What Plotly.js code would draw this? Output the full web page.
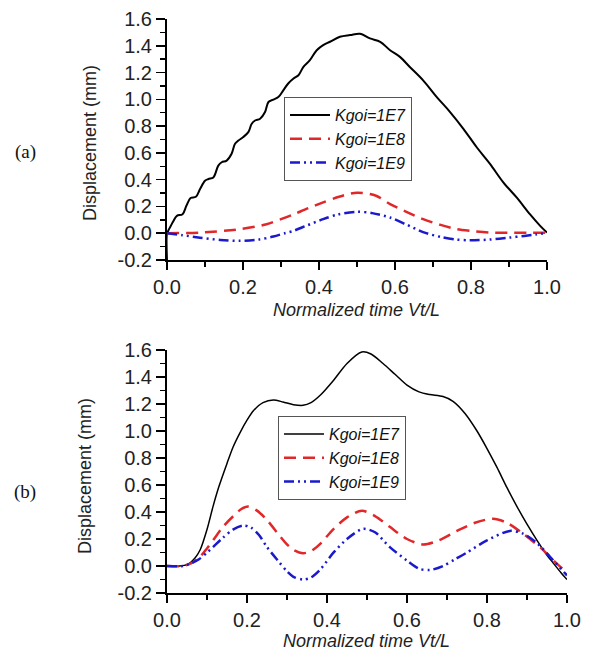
<!DOCTYPE html>
<html>
<head>
<meta charset="utf-8">
<script src="https://cdn.plot.ly/plotly-3.0.1.min.js"></script>
<style>
html,body{margin:0;padding:0;background:#fff;}
#chart{width:589px;height:653px;}
</style>
</head>
<body>
<div id="chart"></div>
<script>
// ---------- Data: panel (a) ----------
var a_k7_x = [0, 0, 0.003, 0.017, 0.026, 0.041, 0.051, 0.062, 0.076, 0.087, 0.1, 0.109, 0.122, 0.135, 0.144, 0.157, 0.17, 0.179, 0.188, 0.2, 0.214, 0.223, 0.232, 0.245, 0.258, 0.267, 0.28, 0.293, 0.306, 0.319, 0.333, 0.346, 0.359, 0.376, 0.394, 0.411, 0.429, 0.455, 0.482, 0.508, 0.534, 0.561, 0.587, 0.613, 0.639, 0.674, 0.71, 0.745, 0.78, 0.815, 0.85, 0.885, 0.92, 0.955, 0.982, 1.0];
var a_k7_y = [-0.2, 0, 0.017, 0.092, 0.13, 0.142, 0.205, 0.263, 0.272, 0.33, 0.392, 0.405, 0.417, 0.505, 0.53, 0.542, 0.593, 0.668, 0.692, 0.717, 0.755, 0.818, 0.842, 0.855, 0.905, 0.98, 0.998, 1.017, 1.067, 1.118, 1.155, 1.18, 1.242, 1.292, 1.367, 1.405, 1.43, 1.467, 1.48, 1.49, 1.455, 1.43, 1.367, 1.317, 1.242, 1.142, 1.017, 0.905, 0.78, 0.642, 0.518, 0.38, 0.267, 0.142, 0.055, 0.005];

var a_k8_x = [0, 0.087, 0.192, 0.262, 0.3, 0.332, 0.37, 0.411, 0.45, 0.5, 0.55, 0.587, 0.63, 0.674, 0.72, 0.763, 0.8, 0.85, 0.9, 0.95, 1.0];
var a_k8_y = [0, 0.005, 0.03, 0.067, 0.105, 0.14, 0.185, 0.23, 0.27, 0.303, 0.28, 0.218, 0.16, 0.105, 0.062, 0.03, 0.017, 0.005, 0.003, 0.003, 0.003];

var a_k9_x = [0, 0.04, 0.087, 0.14, 0.192, 0.24, 0.28, 0.31, 0.332, 0.37, 0.411, 0.45, 0.5, 0.54, 0.587, 0.63, 0.674, 0.72, 0.76, 0.797, 0.85, 0.9, 0.94, 0.97, 1.0];
var a_k9_y = [0, -0.015, -0.033, -0.05, -0.057, -0.048, -0.025, 0.0, 0.017, 0.06, 0.105, 0.14, 0.16, 0.15, 0.117, 0.065, 0.008, -0.028, -0.047, -0.053, -0.047, -0.033, -0.02, -0.01, 0.003];

// ---------- Data: panel (b) ----------
var b_k7_x = [0, 0.03, 0.05, 0.07, 0.083, 0.1, 0.115, 0.13, 0.15, 0.165, 0.183, 0.2, 0.216, 0.24, 0.266, 0.29, 0.316, 0.34, 0.36, 0.385, 0.415, 0.45, 0.487, 0.51, 0.54, 0.57, 0.6, 0.63, 0.657, 0.69, 0.715, 0.745, 0.775, 0.8, 0.825, 0.85, 0.875, 0.9, 0.925, 0.95, 0.966, 0.985, 1.0];
var b_k7_y = [0, 0, 0.01, 0.06, 0.12, 0.27, 0.44, 0.59, 0.76, 0.88, 0.99, 1.08, 1.15, 1.21, 1.23, 1.215, 1.195, 1.19, 1.21, 1.27, 1.37, 1.5, 1.585, 1.57, 1.5, 1.42, 1.34, 1.29, 1.27, 1.255, 1.22, 1.13, 1.0, 0.87, 0.73, 0.58, 0.44, 0.31, 0.19, 0.08, 0.02, -0.05, -0.1];

var b_k8_x = [0, 0.04, 0.06, 0.08, 0.1, 0.115, 0.14, 0.166, 0.185, 0.203, 0.225, 0.25, 0.28, 0.3, 0.316, 0.34, 0.36, 0.385, 0.415, 0.45, 0.487, 0.52, 0.557, 0.6, 0.64, 0.68, 0.725, 0.77, 0.815, 0.85, 0.89, 0.92, 0.94, 0.97, 1.0];
var b_k8_y = [0, 0, 0.02, 0.06, 0.13, 0.19, 0.29, 0.37, 0.42, 0.44, 0.41, 0.34, 0.23, 0.16, 0.12, 0.095, 0.11, 0.17, 0.27, 0.36, 0.41, 0.37, 0.29, 0.2, 0.16, 0.19, 0.26, 0.32, 0.35, 0.32, 0.24, 0.17, 0.12, 0.03, -0.05];

var b_k9_x = [0, 0.04, 0.06, 0.08, 0.1, 0.115, 0.14, 0.165, 0.19, 0.21, 0.23, 0.25, 0.28, 0.3, 0.316, 0.34, 0.36, 0.385, 0.415, 0.45, 0.49, 0.52, 0.557, 0.6, 0.63, 0.657, 0.69, 0.72, 0.75, 0.8, 0.857, 0.89, 0.925, 0.96, 1.0];
var b_k9_y = [0, 0, 0.02, 0.05, 0.1, 0.14, 0.21, 0.27, 0.3, 0.285, 0.23, 0.14, 0.03, -0.04, -0.08, -0.1, -0.085, -0.02, 0.095, 0.2, 0.275, 0.25, 0.14, 0.04, -0.02, -0.03, 0.0, 0.05, 0.1, 0.19, 0.26, 0.24, 0.17, 0.06, -0.07];

var seriesNames = ['Kgoi=1E7', 'Kgoi=1E8', 'Kgoi=1E9'];
var xTicks = [0, 0.2, 0.4, 0.6, 0.8, 1.0];
var yTicks = [-0.2, 0, 0.2, 0.4, 0.6, 0.8, 1.0, 1.2, 1.4, 1.6];

// ---------- Styles ----------
var BLACK = '#000000', RED = '#e0282a', BLUE = '#1a1acc';
var DASH = '12px,7px';
var DASHDOT = '10px,4px,2px,4px,2px,4px';
var sans = 'Liberation Sans, Arial, sans-serif';
var W = 589, H = 653;

function tr(x, y, name, color, width, dash, xa, ya, leg, smooth) {
  return {
    x: x, y: y, name: name, type: 'scatter', mode: 'lines',
    xaxis: xa, yaxis: ya, legend: leg,
    line: {color: color, width: width, dash: dash, shape: 'spline', smoothing: smooth || 0.8}
  };
}

var data = [
  tr(a_k7_x, a_k7_y, seriesNames[0], BLACK, 2, 'solid', 'x', 'y', 'legend', 1.0),
  tr(a_k8_x, a_k8_y, seriesNames[1], RED, 2.5, DASH, 'x', 'y', 'legend'),
  tr(a_k9_x, a_k9_y, seriesNames[2], BLUE, 2.5, DASHDOT, 'x', 'y', 'legend'),
  tr(b_k7_x, b_k7_y, seriesNames[0], BLACK, 1.5, 'solid', 'x2', 'y2', 'legend2'),
  tr(b_k8_x, b_k8_y, seriesNames[1], RED, 2.5, DASH, 'x2', 'y2', 'legend2'),
  tr(b_k9_x, b_k9_y, seriesNames[2], BLUE, 2.5, DASHDOT, 'x2', 'y2', 'legend2')
];

function xAxis(domain, anchor) {
  return {
    domain: domain, anchor: anchor, range: [0, 1],
    tickvals: xTicks, ticktext: xTicks.map(function(v){return v.toFixed(1);}),
    showline: true, linecolor: '#000', linewidth: 2,
    ticks: 'outside', ticklen: 8, tickwidth: 1.5, tickcolor: '#000',
    minor: {dtick: 0.1, tick0: 0, ticks: 'outside', ticklen: 5, tickwidth: 1.5, tickcolor: '#000'},
    showgrid: false, zeroline: false, fixedrange: true,
    tickfont: {family: sans, size: 20, color: '#222'}
  };
}
function yAxis(domain, anchor) {
  return {
    domain: domain, anchor: anchor, range: [-0.2, 1.6],
    tickvals: yTicks, ticktext: yTicks.map(function(v){return v.toFixed(1);}),
    showline: true, linecolor: '#000', linewidth: 2,
    ticks: 'outside', ticklen: 9, tickwidth: 1.5, tickcolor: '#000',
    minor: {dtick: 0.1, tick0: 0, ticks: 'outside', ticklen: 5, tickwidth: 1.5, tickcolor: '#000'},
    showgrid: false, zeroline: false, fixedrange: true,
    tickfont: {family: sans, size: 20, color: '#222'}
  };
}

function legend(x, y) {
  return {
    x: x, y: y, xanchor: 'left', yanchor: 'top',
    bgcolor: '#fff', bordercolor: '#555', borderwidth: 1,
    font: {family: sans, size: 16, style: 'italic', color: '#111'},
    tracegroupgap: 0, itemwidth: 40,
    entrywidth: 100, entrywidthmode: 'pixels'
  };
}

function ann(text, px, py, opts) {
  var a = {text: text, x: px / W, y: 1 - py / H, xref: 'paper', yref: 'paper',
           xanchor: 'center', yanchor: 'middle', showarrow: false,
           font: {family: sans, size: 18, color: '#222'}};
  for (var k in opts) a[k] = opts[k];
  return a;
}

var layout = {
  width: W, height: H,
  margin: {l: 0, r: 0, t: 0, b: 0},
  paper_bgcolor: '#fff', plot_bgcolor: '#fff',
  showlegend: true,
  xaxis: xAxis([167 / W, 547 / W], 'y'),
  yaxis: yAxis([1 - 260 / H, 1 - 19 / H], 'x'),
  xaxis2: xAxis([167 / W, 567 / W], 'y2'),
  yaxis2: yAxis([1 - 593 / H, 1 - 350 / H], 'x2'),
  legend: legend(284 / W, 1 - 97 / H),
  legend2: legend(278 / W, 1 - 416 / H),
  annotations: [
    ann('Displacement (mm)', 90, 143, {textangle: -90}),
    ann('Displacement (mm)', 85, 476, {textangle: -90}),
    ann('<i>Normalized time Vt/L</i>', 357, 310),
    ann('<i>Normalized time Vt/L</i>', 366, 641),
    ann('(a)', 25, 152, {font: {family: 'Liberation Serif, Times New Roman, serif', size: 19, color: '#111'}}),
    ann('(b)', 25, 492, {font: {family: 'Liberation Serif, Times New Roman, serif', size: 19, color: '#111'}})
  ]
};

Plotly.newPlot('chart', data, layout, {staticPlot: true, displayModeBar: false});
</script>
</body>
</html>
